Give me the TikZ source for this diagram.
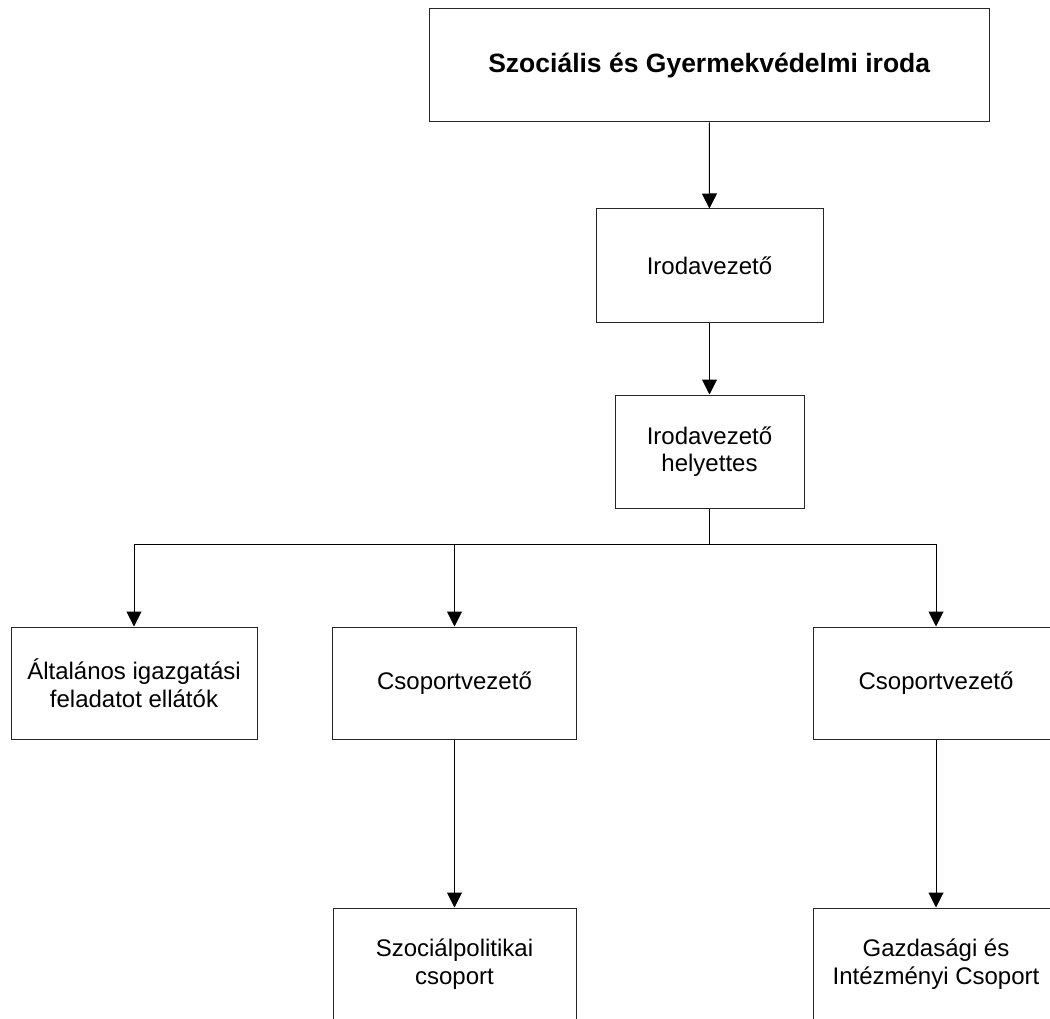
\documentclass[tikz,border=0pt]{standalone}
\usepackage{fontspec}
\setmainfont{Liberation Sans}
\usetikzlibrary{arrows.meta}
\begin{document}
\begin{tikzpicture}[x=1pt,y=-1pt,
  box/.style={draw=black!85, line width=1pt, fill=white, align=center,
    inner sep=0pt, font=\fontsize{24}{27.5}\selectfont},
  link/.style={draw=black, line width=1pt,
    -{Triangle[length=15pt,width=15pt]}},
  plain/.style={draw=black, line width=1pt}]
  \useasboundingbox (0,0) rectangle (1050,1019);
  \clip (0,0) rectangle (1050,1019);

  % hierarchy boxes
  \node[box, minimum width=559.5pt, minimum height=113pt,
    font=\fontsize{26.5}{30}\selectfont\bfseries]
    (iroda) at (709.25,65.5) {Szociális és Gyermekvédelmi iroda};
  \node[box, minimum width=227pt, minimum height=113pt]
    (vez) at (709.5,265.5) {Irodavezető};
  \node[box, minimum width=189pt, minimum height=113pt]
    (helyettes) at (709.5,451.5) {Irodavezető\\helyettes};

  \node[box, minimum width=246pt, minimum height=112pt]
    (altalanos) at (134,683) {Általános igazgatási\\feladatot ellátók};
  \node[box, minimum width=244pt, minimum height=112pt]
    (csop1) at (454.5,683) {Csoportvezető};
  \node[box, minimum width=246pt, minimum height=112pt]
    (csop2) at (936,683) {Csoportvezető};

  \node[box, minimum width=243pt, minimum height=112pt]
    (szoc) at (454.5,964) {Szociálpolitikai\\csoport};
  \node[box, minimum width=246pt, minimum height=112pt]
    (gazd) at (936,964) {Gazdasági és\\Intézményi Csoport};

  % connectors
  \coordinate (bus) at (709.5,544);
  \draw[link] (iroda) -- (vez);
  \draw[link] (vez) -- (helyettes);
  \draw[plain] (helyettes.south) -- (bus);
  \draw[link] (bus) -| (altalanos.north);
  \draw[link] (bus) -| (csop1.north);
  \draw[link] (bus) -| (csop2.north);
  \draw[link] (csop1) -- (szoc);
  \draw[link] (csop2) -- (gazd);
\end{tikzpicture}
\end{document}
